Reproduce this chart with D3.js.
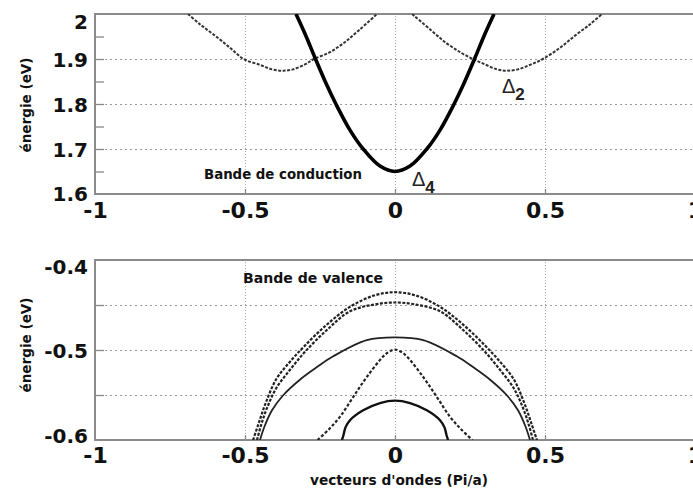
<!DOCTYPE html>
<html><head><meta charset="utf-8">
<script src="https://cdn.jsdelivr.net/npm/d3@7/dist/d3.min.js"></script>
<style>
html,body{margin:0;padding:0;background:#fff;}
svg{display:block;}
</style></head>
<body>
<svg id="chart" width="693" height="492"></svg>
<script>
// ---------- data ----------
const xTicks = [-1, -0.5, 0, 0.5, 1];
const xGrid = [-0.5, 0, 0.5];
const topYTicks = [1.6, 1.7, 1.8, 1.9, 2];
const topYGrid = [1.7, 1.8, 1.9];
const topYMinor = [1.65, 1.7, 1.75, 1.8, 1.85, 1.9, 1.95];
const botYTicks = [-0.6, -0.5, -0.4];
const botYGrid = [-0.55, -0.5, -0.45];
const botYMinor = [-0.55, -0.5, -0.45];

// conduction band Δ4 (thick)
const kDelta4 = [-0.33, -0.3, -0.265, -0.23, -0.197, -0.15, -0.106, -0.05, 0, 0.05, 0.106, 0.15, 0.197, 0.23, 0.265, 0.3, 0.33];
const eDelta4 = [2.0, 1.956, 1.9, 1.846, 1.8, 1.742, 1.7, 1.662, 1.65, 1.662, 1.7, 1.742, 1.8, 1.846, 1.9, 1.956, 2.0];
// conduction band Δ2 (dashed), right and left valleys
const kDelta2R = [0.057, 0.12, 0.17, 0.22, 0.26, 0.3, 0.34, 0.373, 0.41, 0.45, 0.493, 0.55, 0.6, 0.65, 0.69];
const eDelta2R = [2.0, 1.964, 1.936, 1.914, 1.9, 1.888, 1.877, 1.874, 1.877, 1.887, 1.9, 1.925, 1.952, 1.977, 2.0];
const kDelta2L = [-0.69, -0.65, -0.6, -0.55, -0.505, -0.45, -0.41, -0.373, -0.34, -0.3, -0.27, -0.22, -0.17, -0.12, -0.06];
const eDelta2L = [2.0, 1.977, 1.952, 1.925, 1.9, 1.887, 1.877, 1.874, 1.877, 1.888, 1.9, 1.914, 1.936, 1.964, 2.0];

// valence bands
const kV1 = [-0.473, -0.455, -0.43, -0.395, -0.35, -0.3, -0.228, -0.15, -0.07, 0, 0.07, 0.15, 0.228, 0.3, 0.35, 0.395, 0.43, 0.455, 0.473];
const eV1 = [-0.6, -0.582, -0.558, -0.532, -0.513, -0.495, -0.472, -0.452, -0.4395, -0.4358, -0.4395, -0.452, -0.472, -0.495, -0.513, -0.532, -0.558, -0.582, -0.6];
const kV2 = [-0.46, -0.445, -0.425, -0.395, -0.35, -0.3, -0.228, -0.15, -0.07, 0, 0.07, 0.15, 0.228, 0.3, 0.35, 0.395, 0.425, 0.445, 0.46];
const eV2 = [-0.6, -0.582, -0.563, -0.542, -0.522, -0.502, -0.478, -0.457, -0.4495, -0.4472, -0.4495, -0.457, -0.478, -0.502, -0.522, -0.542, -0.563, -0.582, -0.6];
const kV3 = [-0.45, -0.435, -0.41, -0.372, -0.317, -0.26, -0.206, -0.094, 0, 0.094, 0.206, 0.26, 0.317, 0.372, 0.41, 0.435, 0.45];
const eV3 = [-0.6, -0.585, -0.567, -0.55, -0.533, -0.519, -0.507, -0.489, -0.486, -0.489, -0.507, -0.519, -0.533, -0.55, -0.567, -0.585, -0.6];
const kV4 = [-0.258, -0.22, -0.183, -0.139, -0.094, -0.039, -0.02, 0, 0.02, 0.039, 0.094, 0.139, 0.183, 0.22, 0.258];
const eV4 = [-0.6, -0.588, -0.574, -0.552, -0.53, -0.507, -0.502, -0.4995, -0.502, -0.507, -0.53, -0.552, -0.574, -0.588, -0.6];
const kV5 = [-0.177, -0.172, -0.165, -0.15, -0.106, -0.05, 0, 0.05, 0.106, 0.15, 0.165, 0.172, 0.177];
const eV5 = [-0.6, -0.595, -0.586, -0.578, -0.567, -0.559, -0.5563, -0.559, -0.567, -0.578, -0.586, -0.595, -0.6];

// ---------- layout ----------
const svg = d3.select("#chart");
svg.append("rect").attr("width", 693).attr("height", 492).attr("fill", "#fff");

const x = d3.scaleLinear().domain([-1, 1]).range([95, 695]);
const yTop = d3.scaleLinear().domain([1.6, 2]).range([194, 14]);
const yBot = d3.scaleLinear().domain([-0.6, -0.4]).range([440, 260]);

const tickFont = "'DejaVu Sans', Verdana, sans-serif";
const titleFont = "'DejaVu Sans Condensed', 'DejaVu Sans', sans-serif";

function zip(ks, es) { return ks.map((k, i) => [k, es[i]]); }

function panel(y, id, yTicks, yGrid, yMinor, topDy, botDy, xLabelDyPx) {
  const g = svg.append("g");
  const [y0, y1] = y.range(); // bottom, top
  const x0 = x.range()[0], x1 = x.range()[1];

  svg.append("clipPath").attr("id", id).append("rect")
    .attr("x", x0).attr("y", y1).attr("width", x1 - x0).attr("height", y0 - y1);

  // horizontal grid
  const hg = g.append("g").attr("transform", `translate(${x0},0)`)
    .call(d3.axisLeft(y).tickValues(yGrid).tickSize(-(x1 - x0)).tickFormat(""));
  hg.select(".domain").remove();
  hg.selectAll("line").attr("stroke", "#9a9a9a").attr("stroke-width", 1.2).attr("stroke-dasharray", "2,3");

  // vertical grid
  const vg = g.append("g").attr("transform", `translate(0,${y0})`)
    .call(d3.axisBottom(x).tickValues(xGrid).tickSize(-(y0 - y1)).tickFormat(""));
  vg.select(".domain").remove();
  vg.selectAll("line").attr("stroke", "#a8a8a8").attr("stroke-width", 1).attr("stroke-dasharray", "1,2");

  // minor inner ticks left
  const mt = g.append("g").attr("transform", `translate(${x0},0)`)
    .call(d3.axisLeft(y).tickValues(yMinor).tickSize(-9).tickFormat(""));
  mt.select(".domain").remove();
  mt.selectAll("line").attr("stroke", "#888").attr("stroke-width", 1.3);

  // inner ticks bottom
  const bt = g.append("g").attr("transform", `translate(0,${y0})`)
    .call(d3.axisBottom(x).tickValues(xGrid).tickSize(-5).tickFormat(""));
  bt.select(".domain").remove();
  bt.selectAll("line").attr("stroke", "#888").attr("stroke-width", 1.3);

  // frame
  g.append("path")
    .attr("d", `M${x1},${y1}H${x0}V${y0}H${x1}`)
    .attr("fill", "none").attr("stroke", "#8a8a8a").attr("stroke-width", 2);

  // y tick labels
  const ya = g.append("g").attr("transform", `translate(${x0},0)`)
    .call(d3.axisLeft(y).tickValues(yTicks).tickSize(0).tickPadding(7).tickFormat(d => String(d)));
  ya.select(".domain").remove();
  ya.selectAll("text")
    .attr("font-family", tickFont).attr("font-weight", "bold").attr("font-size", 20)
    .attr("fill", "#111")
    .attr("dy", d => d === yTicks[yTicks.length - 1] ? topDy : (d === yTicks[0] ? botDy : "0.36em"));

  // x tick labels
  const xa = g.append("g").attr("transform", `translate(0,${y0})`)
    .call(d3.axisBottom(x).tickValues(xTicks).tickSize(0).tickPadding(xLabelDyPx).tickFormat(d => String(d)));
  xa.select(".domain").remove();
  xa.selectAll("text")
    .attr("font-family", tickFont).attr("font-weight", "bold").attr("font-size", 22)
    .attr("fill", "#111");

  return g;
}

const gTop = panel(yTop, "clipTop", topYTicks, topYGrid, topYMinor, "0.7em", "0.3em", 8);
const gBot = panel(yBot, "clipBot", botYTicks, botYGrid, botYMinor, "0.66em", "0.1em", 7);

// ---------- curves ----------
function drawCurve(y, clipId, pts, stroke, width, dash) {
  const line = d3.line().x(d => x(d[0])).y(d => y(d[1])).curve(d3.curveCatmullRom.alpha(0.5));
  svg.append("path")
    .datum(pts)
    .attr("clip-path", `url(#${clipId})`)
    .attr("d", line)
    .attr("fill", "none")
    .attr("stroke", stroke)
    .attr("stroke-width", width)
    .attr("stroke-dasharray", dash || null)
    .attr("stroke-linecap", "butt");
}

drawCurve(yTop, "clipTop", zip(kDelta2L, eDelta2L), "#333", 2, "3,1.5");
drawCurve(yTop, "clipTop", zip(kDelta2R, eDelta2R), "#333", 2, "3,1.5");
drawCurve(yTop, "clipTop", zip(kDelta4, eDelta4), "#000", 3.6, null);

drawCurve(yBot, "clipBot", zip(kV1, eV1), "#222", 2.2, "3,1.5");
drawCurve(yBot, "clipBot", zip(kV2, eV2), "#222", 2.2, "3,1.5");
drawCurve(yBot, "clipBot", zip(kV3, eV3), "#222", 1.8, null);
drawCurve(yBot, "clipBot", zip(kV4, eV4), "#222", 2.2, "3,2");
drawCurve(yBot, "clipBot", zip(kV5, eV5), "#111", 2.4, null);

// ---------- texts ----------
function label(txt, cx, cy, len, size, rotate) {
  const t = svg.append("text")
    .attr("font-family", titleFont).attr("font-weight", "bold").attr("font-size", size)
    .attr("fill", "#111").attr("text-anchor", "middle")
    .attr("textLength", len).attr("lengthAdjust", "spacingAndGlyphs")
    .text(txt);
  if (rotate) t.attr("transform", `translate(${cx},${cy}) rotate(-90)`);
  else t.attr("x", cx).attr("y", cy);
  return t;
}
label("énergie (eV)", 31, 105, 95, 14, true);
label("énergie (eV)", 31, 345, 95, 14, true);
label("vecteurs d'ondes (Pi/a)", 399, 485, 178, 14, false);
label("Bande de conduction", 283, 179, 158, 14, false);
label("Bande de valence", 313, 283, 140, 14, false);

function delta(sub, xx, yy) {
  const t = svg.append("text").attr("x", xx).attr("y", yy)
    .attr("font-family", "'Liberation Sans', Arial, sans-serif")
    .attr("font-size", 20).attr("fill", "#222");
  t.append("tspan").text("Δ");
  t.append("tspan").attr("dy", 7).attr("font-size", 17).attr("font-weight", "bold").text(sub);
}
delta("2", 502, 93);
delta("4", 412, 186);
</script>
</body></html>
